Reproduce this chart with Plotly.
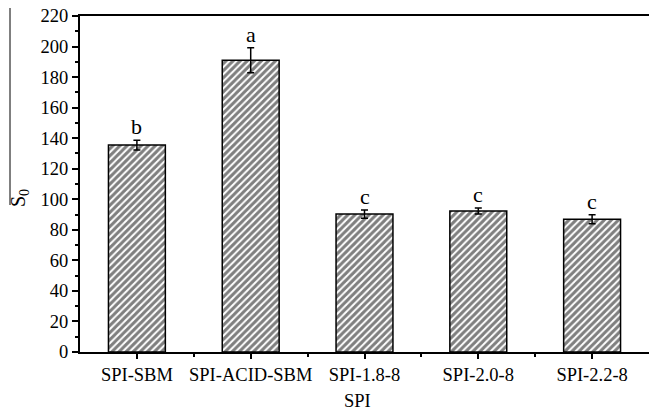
import plotly.graph_objects as go

categories = ["SPI-SBM", "SPI-ACID-SBM", "SPI-1.8-8", "SPI-2.0-8", "SPI-2.2-8"]
values = [135.5, 191, 90.3, 92.3, 86.9]
errors = [3.2, 8.2, 2.7, 2.0, 3.0]
letters = ["b", "a", "c", "c", "c"]
y_ticks = list(range(0, 221, 20))

FONT = "Liberation Serif"
W, H = 649, 413
L, R, T, B = 80, 0, 16, 61
pw, ph = W - L - R, H - T - B

xpos = list(range(len(categories)))

fig = go.Figure()
fig.add_trace(go.Bar(
    x=xpos, y=values, width=0.5,
    marker=dict(color="white",
                line=dict(color="black", width=1.5),
                pattern=dict(shape="/", fgcolor="black", bgcolor="white",
                             size=5, solidity=0.6, fillmode="overlay")),
    error_y=dict(type="data", array=errors, visible=True,
                 color="black", thickness=1.5, width=3.5),
    showlegend=False,
))

for i, (v, e, t) in enumerate(zip(values, errors, letters)):
    fig.add_annotation(x=i, y=v + e, text=t, showarrow=False,
                       yanchor="bottom", yshift=-1,
                       font=dict(family=FONT, size=22, color="black"))


def px_x(x):
    return (x - L) / pw


def px_y(y):
    return (H - B - y) / ph


# y title (rotated) and the stray vertical rule next to it
fig.add_annotation(xref="paper", yref="paper", x=px_x(19), y=px_y(198),
                   text="S<sub>0</sub>", showarrow=False, textangle=-90,
                   xanchor="center", yanchor="middle",
                   font=dict(family=FONT, size=20, color="black"))
fig.add_shape(type="line", xref="paper", yref="paper",
              x0=px_x(10), x1=px_x(10), y0=px_y(8), y1=px_y(205),
              line=dict(color="black", width=1))

# x title
fig.add_annotation(xref="paper", yref="paper", x=px_x(357), y=px_y(401),
                   text="SPI", showarrow=False,
                   xanchor="center", yanchor="middle",
                   font=dict(family=FONT, size=18.5, color="black"))

fig.update_layout(
    width=W, height=H,
    margin=dict(l=L, r=R, t=T, b=B, pad=0),
    paper_bgcolor="white", plot_bgcolor="white",
    font=dict(family=FONT, size=18.5, color="black"),
    xaxis=dict(
        range=[-0.5, 4.5], tickmode="array", tickvals=xpos, ticktext=categories,
        showline=True, linecolor="black", linewidth=2, mirror=True,
        ticks="outside", ticklen=5, tickwidth=1.5, tickcolor="black",
        showgrid=False, zeroline=False,
        minor=dict(tickmode="array", tickvals=[0.5, 1.5, 2.5, 3.5],
                   ticks="outside", ticklen=3, tickwidth=1.5, tickcolor="black"),
        tickfont=dict(family=FONT, size=18.5, color="black"),
    ),
    yaxis=dict(
        range=[0, 220], tickmode="array", tickvals=y_ticks,
        showline=True, linecolor="black", linewidth=2, mirror=False,
        ticks="outside", ticklen=6, tickwidth=1.5, tickcolor="black",
        showgrid=False, zeroline=False,
        minor=dict(tickmode="linear", tick0=10, dtick=20,
                   ticks="outside", ticklen=3, tickwidth=1.5, tickcolor="black"),
        tickfont=dict(family=FONT, size=18.5, color="black"),
    ),
)

fig.write_html("out.html")
